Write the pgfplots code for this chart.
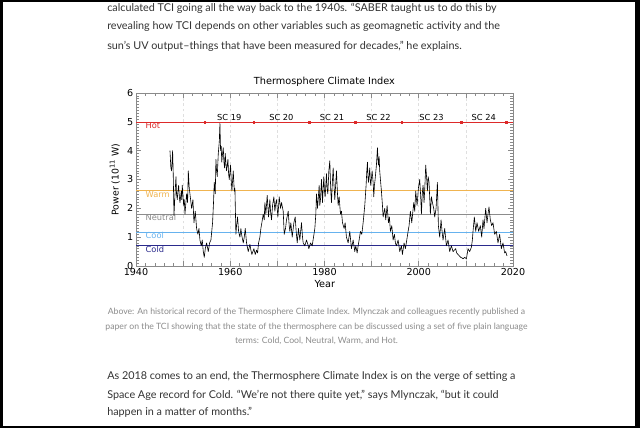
\documentclass[border=0pt]{standalone}
\usepackage{fontspec}
\setmainfont{Lato}
\newfontfamily\dejavu{DejaVu Sans}
\usepackage{pgfplots}
\pgfplotsset{compat=1.18}

\definecolor{bodytxt}{HTML}{333333}
\definecolor{captxt}{HTML}{8C8C8C}
\definecolor{hotc}{HTML}{DD2A2A}
\definecolor{warmc}{HTML}{F0B450}
\definecolor{neutc}{HTML}{8C8C8C}
\definecolor{coolc}{HTML}{66B2EE}
\definecolor{coldc}{HTML}{2A2A8C}
\definecolor{boxc}{HTML}{8A8A8A}

\newcommand\bodyfont{\fontsize{8.1}{10}\selectfont}
\newcommand\capfont{\fontsize{6.5}{8}\selectfont}

\begin{document}
\begin{tikzpicture}[x=0.75pt,y=0.75pt]
\useasboundingbox (0,0) rectangle (640,428);
\fill[white] (0,0) rectangle (640,428);
\fill[black] (0,0) rectangle (3,428);
\fill[black] (635,0) rectangle (640,428);
\fill[black] (0,426) rectangle (640,428);
\fill[black] (0,0) rectangle (640,2);

% page text above and below the figure
\begin{scope}[every node/.style={anchor=west, inner sep=0pt, text=bodytxt, font=\bodyfont}]
\node at (107,419.5) {calculated TCI going all the way back to the 1940s. “SABER taught us to do this by};
\node at (107,401) {revealing how TCI depends on other variables such as geomagnetic activity and the};
\node at (107,382) {sun’s UV output–things that have been measured for decades,” he explains.};
\node at (107,51.3) {As 2018 comes to an end, the Thermosphere Climate Index is on the verge of setting a};
\node at (107,33) {Space Age record for Cold. “We’re not there quite yet,” says Mlynczak, “but it could};
\node at (107,16) {happen in a matter of months.”};
\end{scope}

% caption
\begin{scope}[every node/.style={anchor=center, inner sep=0pt, text=captxt, font=\capfont}]
\node at (316.5,116.3) {Above: An historical record of the Thermosphere Climate Index. Mlynczak and colleagues recently published a};
\node at (316.5,101.3) {paper on the TCI showing that the state of the thermosphere can be discussed using a set of five plain language};
\node at (316.5,87.3) {terms: Cold, Cool, Neutral, Warm, and Hot.};
\end{scope}

\begin{axis}[
  at={(102pt,121.5pt)}, anchor=south west,
  scale only axis, width=282.75pt, height=129.75pt,
  xmin=1940, xmax=2020, ymin=0, ymax=6,
  xtick={1940,1950,...,2020},
  xticklabels={1940,,1960,,1980,,2000,,2020},
  minor x tick num=4,
  ytick={0,1,...,6},
  yticklabels={0,1,2,3,4,5,6},
  minor y tick num=9,
  tick pos=both, tick align=inside,
  major tick length=3.8pt, minor tick length=2.6pt,
  axis line style={boxc, line width=0.5pt},
  every tick/.style={boxc, line width=0.4pt},
  xmajorgrids, major grid style={dash pattern=on 2pt off 2pt, gray!25, line width=0.4pt},
  tick label style={font=\dejavu\fontsize{7.2}{8}\selectfont, text=black},
  /pgf/number format/assume math mode=true,
  xticklabel style={yshift=1.5pt},
  yticklabel style={xshift=1.5pt},
  title={Thermosphere Climate Index},
  title style={font=\dejavu\fontsize{7.3}{8}\selectfont, at={(rel axis cs:0.5,1.066)}, anchor=center, inner sep=0pt, yshift=-6pt},
  xlabel={Year},
  xlabel style={font=\dejavu\fontsize{7.3}{8}\selectfont, at={(rel axis cs:0.501,-0.104)}, anchor=center, inner sep=0pt},
  ylabel={Power (10\textsuperscript{11} W)},
  ylabel style={font=\dejavu\fontsize{7}{8}\selectfont, at={(rel axis cs:-0.056,0.5)}, anchor=center, inner sep=0pt},
  clip=false,
]
% climate thresholds
\addplot[hotc, line width=0.6pt] coordinates {(1940,4.97) (2020,4.97)};
\addplot[warmc, line width=0.6pt] coordinates {(1940,2.62) (2020,2.62)};
\addplot[neutc, line width=0.6pt] coordinates {(1940,1.80) (2020,1.80)};
\addplot[coolc, line width=0.6pt] coordinates {(1940,1.16) (2020,1.16)};
\addplot[coldc, line width=0.6pt] coordinates {(1940,0.72) (2020,0.72)};
% solar cycle boundaries
\addplot[hotc, only marks, mark=square*, mark size=0.7pt] coordinates {
(1954.6,4.97) (1965.0,4.97) (1976.7,4.97) (1986.5,4.97) (1996.4,4.97) (2009.0,4.97) (2018.6,4.97)};

\begin{scope}[every node/.style={anchor=west, inner sep=0pt, font=\dejavu\fontsize{6.2}{7}\selectfont}]
\node[text=hotc] at (axis cs:1942,4.87) {Hot};
\node[text=warmc] at (axis cs:1942,2.49) {Warm};
\node[text=neutc] at (axis cs:1942,1.675) {Neutral};
\node[text=coolc] at (axis cs:1942,1.05) {Cool};
\node[text=coldc] at (axis cs:1942,0.59) {Cold};
\end{scope}
\begin{scope}[every node/.style={anchor=center, inner sep=0pt, font=\dejavu\fontsize{6.2}{7}\selectfont}]
\node at (axis cs:1959.8,5.14) {SC 19};
\node at (axis cs:1970.85,5.14) {SC 20};
\node at (axis cs:1981.6,5.14) {SC 21};
\node at (axis cs:1991.45,5.14) {SC 22};
\node at (axis cs:2002.7,5.14) {SC 23};
\node at (axis cs:2013.8,5.14) {SC 24};
\end{scope}

% TCI record
\addplot[black, line width=0.45pt, line join=round] coordinates {
(1947.21,4.0) (1947.40,3.4) (1947.56,3.3) (1947.77,4.0) (1947.90,3.2) (1948.06,1.75) (1948.25,2.4) (1948.48,3.1) (1948.60,2.5) (1948.76,2.3)
(1948.90,2.6) (1949.05,2.8) (1949.20,2.4) (1949.33,2.2) (1949.61,2.6) (1949.70,2.3) (1949.82,2.8) (1950.11,2.1) (1950.25,2.3) (1950.39,1.8)
(1950.74,2.5) (1950.95,2.2) (1951.10,3.3) (1951.30,2.7) (1951.45,2.5) (1951.80,2.0) (1952.08,2.3) (1952.30,1.5)
(1952.58,1.9) (1952.86,1.3) (1953.14,1.1) (1953.36,1.3) (1953.57,0.9) (1953.85,0.7)
(1954.06,0.9) (1954.28,0.5) (1954.49,0.3) (1954.70,0.6) (1954.98,0.8) (1955.34,0.5)
(1955.62,0.8) (1955.90,0.9) (1956.25,1.5) (1956.45,2.2) (1956.61,2.9) (1956.82,2.5) (1956.96,3.7)
(1957.10,3.3) (1957.24,3.1) (1957.46,3.9) (1957.67,4.3) (1957.81,4.95) (1957.95,4.0) (1958.09,4.15)
(1958.20,3.6) (1958.30,3.8) (1958.52,4.1) (1958.66,3.6) (1958.80,3.4) (1958.94,3.9) (1959.10,3.5) (1959.22,3.3) (1959.51,3.7)
(1959.65,3.2) (1959.79,3.0) (1960.07,3.5) (1960.20,3.0) (1960.35,2.6) (1960.64,3.3) (1960.85,2.6) (1960.99,2.7)
(1961.20,1.1) (1961.34,1.4) (1961.55,1.7) (1961.77,1.2) (1962.05,1.0) (1962.26,1.3)
(1962.40,1.1) (1962.76,0.8) (1962.97,1.0) (1963.18,1.3) (1963.46,0.8) (1963.82,0.5)
(1964.17,0.75) (1964.38,0.55) (1964.59,0.4) (1964.81,0.5) (1965.02,0.6) (1965.30,0.4)
(1965.58,0.55) (1965.80,0.45) (1966.01,0.8) (1966.29,1.0) (1966.50,1.3) (1966.71,1.5)
(1967.00,1.8) (1967.21,1.6) (1967.35,2.2) (1967.56,1.8) (1967.84,2.45) (1968.13,1.7)
(1968.41,2.3) (1968.55,1.9) (1968.76,1.6) (1968.98,2.1) (1969.26,2.4) (1969.47,1.9)
(1969.68,2.2) (1969.82,2.3) (1970.11,1.7) (1970.39,2.4) (1970.67,2.0) (1970.88,2.2)
(1971.24,1.9) (1971.45,1.1) (1971.73,1.3) (1971.94,1.6) (1972.30,1.9) (1972.51,1.4)
(1972.65,1.2) (1972.86,1.5) (1973.15,1.0) (1973.50,1.5) (1973.78,1.7) (1973.99,1.2)
(1974.21,0.8) (1974.49,1.3) (1974.77,0.9) (1975.12,1.5) (1975.34,1.0) (1975.48,0.8)
(1975.83,0.7) (1976.18,0.9) (1976.47,0.75) (1976.68,0.6) (1977.03,0.8) (1977.39,0.7)
(1977.67,1.0) (1977.95,1.3) (1978.16,1.8) (1978.30,2.5) (1978.52,2.0) (1978.70,2.4) (1978.87,2.8)
(1979.00,2.1) (1979.15,2.3) (1979.36,3.0) (1979.58,2.2) (1979.72,2.7) (1979.86,3.1) (1980.00,2.6) (1980.14,2.4) (1980.42,3.2)
(1980.55,2.7) (1980.71,2.5) (1980.92,3.3) (1981.13,3.65) (1981.25,3.0) (1981.34,2.6) (1981.48,2.2) (1981.70,3.0)
(1981.84,3.4) (1982.05,2.7) (1982.19,2.3) (1982.40,2.9) (1982.54,3.3) (1982.76,2.5)
(1982.90,2.1) (1983.11,2.4) (1983.39,1.8) (1983.60,1.9) (1983.82,1.5) (1984.17,1.3)
(1984.38,1.5) (1984.66,1.0) (1985.02,0.8) (1985.37,1.2) (1985.72,0.6) (1986.08,0.9)
(1986.43,0.5) (1986.64,0.7) (1986.93,0.45) (1987.14,0.7) (1987.35,0.9) (1987.63,1.2)
(1987.92,1.1) (1988.20,1.5) (1988.55,2.1) (1988.83,2.8) (1988.98,3.3) (1989.12,3.6)
(1989.22,3.1) (1989.33,2.9) (1989.61,3.4) (1989.70,3.0) (1989.82,2.8) (1990.11,3.3) (1990.32,2.9) (1990.46,2.4)
(1990.60,2.8) (1990.74,3.0) (1991.02,3.5) (1991.24,4.1) (1991.35,3.7) (1991.45,3.5) (1991.59,3.8) (1991.72,3.3) (1991.87,3.0)
(1992.08,2.6) (1992.30,2.1) (1992.44,1.7) (1992.79,2.0) (1993.00,1.6) (1993.29,2.1)
(1993.57,1.5) (1993.78,1.7) (1993.99,1.2) (1994.28,1.4) (1994.56,0.9) (1994.84,1.1)
(1995.05,0.8) (1995.27,0.7) (1995.62,0.9) (1995.97,0.5) (1996.32,0.7) (1996.54,0.4)
(1996.89,0.8) (1997.17,0.6) (1997.46,0.9) (1997.74,1.2) (1997.95,1.4) (1998.23,1.9)
(1998.52,1.5) (1998.94,2.2) (1999.15,1.9) (1999.36,2.6) (1999.65,2.1) (1999.93,2.7)
(2000.21,3.0) (2000.42,2.4) (2000.57,1.8) (2000.75,2.5) (2000.92,2.8) (2001.13,2.2) (2001.34,2.9)
(2001.48,3.5) (2001.70,3.0) (2001.84,2.6) (2002.00,3.1) (2002.19,2.9) (2002.47,1.8) (2002.69,2.4)
(2002.90,2.2) (2003.18,2.0) (2003.39,1.7) (2003.68,2.0) (2003.96,2.9) (2004.17,1.4)
(2004.45,1.0) (2004.74,1.6) (2004.95,1.2) (2005.16,0.9) (2005.51,1.3) (2005.87,0.7)
(2006.22,0.9) (2006.57,0.5) (2006.93,0.7) (2007.28,0.5) (2007.56,0.55) (2007.84,0.6)
(2008.06,0.45) (2008.34,0.4) (2008.62,0.35) (2008.90,0.3) (2009.19,0.28) (2009.40,0.25)
(2009.75,0.3) (2010.11,0.25) (2010.32,0.45) (2010.46,0.6) (2010.81,0.5) (2011.17,0.65)
(2011.38,0.9) (2011.52,1.2) (2011.80,1.7) (2012.09,1.2) (2012.37,1.5) (2012.72,1.2)
(2013.07,1.4) (2013.36,1.0) (2013.64,1.6) (2013.85,1.3) (2014.21,2.0) (2014.49,1.5)
(2014.70,1.8) (2014.91,2.05) (2015.19,1.6) (2015.48,1.4) (2015.76,1.5) (2016.11,1.1)
(2016.47,1.2) (2016.82,0.8) (2017.17,1.1) (2017.53,0.6) (2017.88,0.8) (2018.23,0.45)
(2018.45,0.5) (2018.73,0.35)
};
\end{axis}
\end{tikzpicture}
\end{document}
